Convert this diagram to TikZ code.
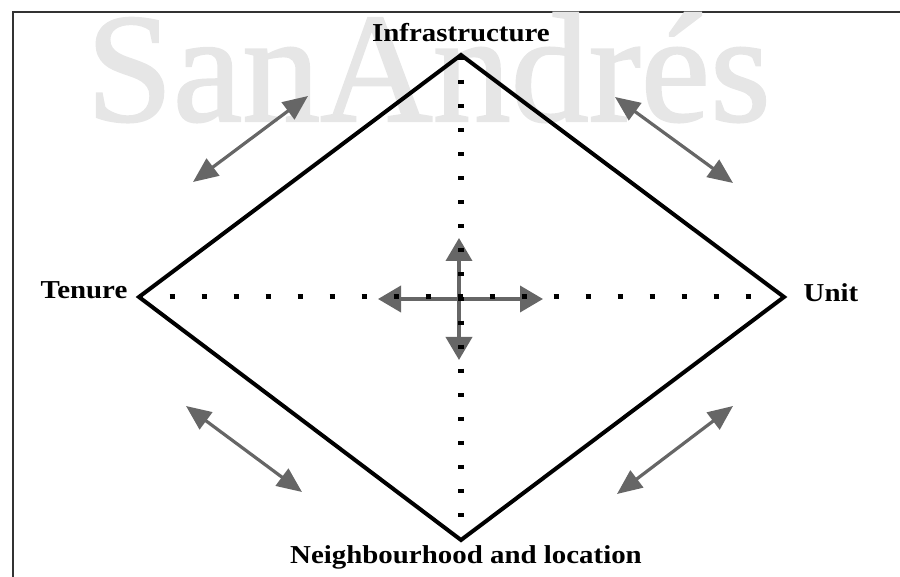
\documentclass[tikz,border=0pt]{standalone}
\usepackage{fontspec}
\setmainfont{Liberation Serif}
\newfontfamily\labelfont{Liberation Serif}[FakeStretch=1.12]
\newfontfamily\wmfont{Liberation Serif}[FakeBold=1.3]
\usetikzlibrary{arrows.meta}
\definecolor{arrgray}{HTML}{666666}
\definecolor{wmgray}{HTML}{E6E6E6}
\definecolor{framegray}{HTML}{333333}
\begin{document}
\begin{tikzpicture}[x=1pt,y=-1pt,
  lbl/.style={font=\labelfont\bfseries\fontsize{25.8}{26}\selectfont, inner sep=0pt, anchor=base},
  watermark/.style={font=\wmfont\fontsize{156}{156}\selectfont, text=wmgray, inner sep=0pt, anchor=base west},
  darr/.style={draw=arrgray, line width=3.2pt, {Triangle[length=25pt,width=21pt]}-{Triangle[length=25pt,width=21pt]}},
  carr/.style={draw=arrgray, line width=3.8pt, {Triangle[length=23pt,width=26pt]}-{Triangle[length=23pt,width=26pt]}},
  diamondline/.style={draw=black, line width=4pt, line join=miter},
  vdots/.style={draw=black, line width=6pt, dash pattern=on 4pt off 20.06pt, dash phase=23.12pt, shorten >=18pt},
  hdots/.style={draw=black, line width=5pt, dash pattern=on 5pt off 27pt, dash phase=1.5pt, shorten >=28pt},
  framel/.style={draw=framegray, line width=2.4pt}
]
\useasboundingbox (0,0) rectangle (900,577);
% frame
\coordinate (f1) at (13,577);
\coordinate (f2) at (13,12);
\coordinate (f3) at (900,12);
\draw[framel] (f1) -- (f2) -- (f3);
% watermark
\node[watermark] (wm) at (86,121) {SanAndrés};
% diamond vertices
\coordinate (T) at (461,55);
\coordinate (L) at (139,297);
\coordinate (R) at (784,297);
\coordinate (B) at (461,540);
% cross arrows
\coordinate (cu) at (459,238);
\coordinate (cd) at (459,360);
\coordinate (cl) at (378,299);
\coordinate (cr) at (543,299);
\draw[carr] (cl) -- (cr);
\draw[carr] (cu) -- (cd);
% dotted axes
\draw[vdots] (T) -- (B);
\draw[hdots] (L) -- (R);
% diamond
\draw[diamondline] (T) -- (R) -- (B) -- (L) -- cycle;
% side arrows
\coordinate (a1) at (193,182);
\coordinate (a2) at (308,96);
\coordinate (b1) at (615,97);
\coordinate (b2) at (733,183);
\coordinate (c1) at (186,406);
\coordinate (c2) at (302,492);
\coordinate (d1) at (733,406);
\coordinate (d2) at (617,494);
\draw[darr] (a1) -- (a2);
\draw[darr] (b1) -- (b2);
\draw[darr] (c1) -- (c2);
\draw[darr] (d1) -- (d2);
% labels
\node[lbl] (infra) at (461,42) {Infrastructure};
\node[lbl] (tenure) at (84,299) {Tenure};
\node[lbl] (unit) at (831,302) {Unit};
\node[lbl] (neigh) at (466,563) {Neighbourhood and location};
\end{tikzpicture}
\end{document}
